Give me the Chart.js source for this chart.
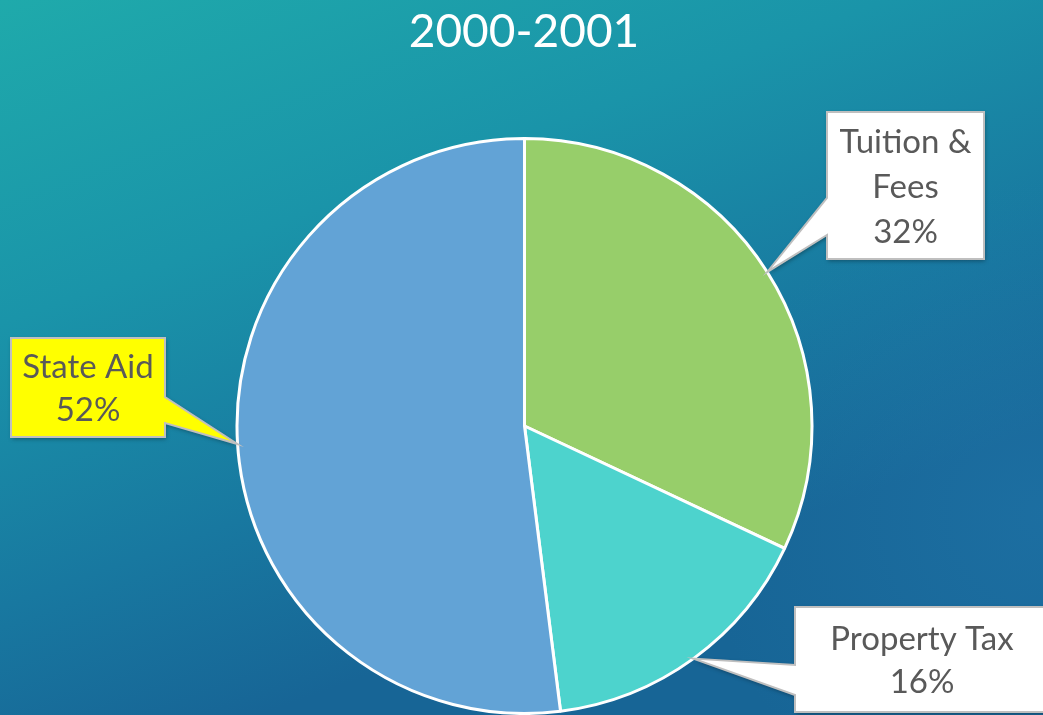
<!DOCTYPE html>
<html lang="en">
<head>
    <meta charset="UTF-8">
    <title>2000-2001 Revenue</title>
    <script src="https://cdn.jsdelivr.net/npm/chart.js"></script>
    <style>
        body {
            margin: 0;
            background: #1a8ea8;
            overflow: hidden;
        }
        canvas {
            display: block;
        }
    </style>
</head>
<body>
    <canvas id="pieChart" width="1043" height="715"></canvas>

    <script>
        const chartTitle = '2000-2001';
        const categories = ['Tuition & Fees', 'Property Tax', 'State Aid'];
        const shares = [32, 16, 52];
        const sliceColors = ['#97ce6a', '#4dd3cd', '#62a3d6'];

        // callout boxes: lines of text, box rect, which side the pointer leaves from
        const callouts = [
            { lines: ['Tuition &', 'Fees', '32%'], box: [827, 112, 157, 147], side: 'left', base: [198, 235], fill: '#ffffff' },
            { lines: ['Property Tax', '16%'], box: [795, 607, 260, 105], side: 'left', base: [665, 695], fill: '#ffffff' },
            { lines: ['State Aid', '52%'], box: [11, 338, 154, 99], side: 'right', base: [397, 423], fill: '#ffff00' }
        ];

        const backdrop = {
            id: 'backdrop',
            beforeDraw(chart) {
                const c = chart.ctx;
                const w = chart.width, h = chart.height;
                c.save();
                const g = c.createLinearGradient(0, 0, w * 0.25, h);
                g.addColorStop(0, '#1faaab');
                g.addColorStop(0.4, '#1a94a9');
                g.addColorStop(0.75, '#1878a0');
                g.addColorStop(1, '#176596');
                c.fillStyle = g;
                c.fillRect(0, 0, w, h);
                // slightly lighter blue on the right side
                const r = c.createRadialGradient(w, h * 0.72, 0, w, h * 0.72, 340);
                r.addColorStop(0, 'rgba(38,128,182,0.35)');
                r.addColorStop(1, 'rgba(38,128,182,0)');
                c.fillStyle = r;
                c.fillRect(0, 0, w, h);

                c.fillStyle = '#ffffff';
                c.font = '46px Lato, "Open Sans", sans-serif';
                c.textAlign = 'center';
                c.textBaseline = 'alphabetic';
                c.fillText(chartTitle, 524, 47);
                c.restore();
            }
        };

        const calloutPlugin = {
            id: 'callouts',
            afterDatasetsDraw(chart) {
                const c = chart.ctx;
                const arcs = chart.getDatasetMeta(0).data;
                c.save();
                callouts.forEach((co, i) => {
                    const a = arcs[i];
                    const mid = (a.startAngle + a.endAngle) / 2;
                    const tipX = a.x + Math.cos(mid) * a.outerRadius;
                    const tipY = a.y + Math.sin(mid) * a.outerRadius;
                    const [bx, by, bw, bh] = co.box;
                    c.beginPath();
                    if (co.side === 'left') {
                        c.moveTo(bx, by);
                        c.lineTo(bx + bw, by);
                        c.lineTo(bx + bw, by + bh);
                        c.lineTo(bx, by + bh);
                        c.lineTo(bx, co.base[1]);
                        c.lineTo(tipX, tipY);
                        c.lineTo(bx, co.base[0]);
                    } else {
                        c.moveTo(bx, by);
                        c.lineTo(bx + bw, by);
                        c.lineTo(bx + bw, co.base[0]);
                        c.lineTo(tipX, tipY);
                        c.lineTo(bx + bw, co.base[1]);
                        c.lineTo(bx + bw, by + bh);
                        c.lineTo(bx, by + bh);
                    }
                    c.closePath();
                    c.shadowColor = 'rgba(0,0,0,0.35)';
                    c.shadowBlur = 4;
                    c.shadowOffsetX = 1;
                    c.shadowOffsetY = 2;
                    c.fillStyle = co.fill;
                    c.fill();
                    c.shadowColor = 'transparent';
                    c.lineWidth = 2;
                    c.strokeStyle = '#bfbfbf';
                    c.stroke();

                    c.fillStyle = '#595959';
                    c.font = '33px Lato, "Open Sans", sans-serif';
                    c.textAlign = 'center';
                    const cx = bx + bw > chart.width ? bx + 127 : bx + bw / 2;
                    const lineH = co.lines.length === 3 ? 45 : 43;
                    const firstBase = by + (bh - lineH * (co.lines.length - 1)) / 2 + 12;
                    co.lines.forEach((t, k) => c.fillText(t, cx, firstBase + k * lineH));
                });
                c.restore();
            }
        };

        const ctx = document.getElementById('pieChart').getContext('2d');
        const pieChart = new Chart(ctx, {
            type: 'pie',
            data: {
                labels: categories,
                datasets: [{
                    data: shares,
                    backgroundColor: sliceColors,
                    borderColor: '#ffffff',
                    borderWidth: 3
                }]
            },
            options: {
                responsive: false,
                animation: false,
                layout: {
                    padding: { top: 137, bottom: 0, left: 6, right: 0 }
                },
                plugins: {
                    legend: { display: false },
                    tooltip: { enabled: false },
                    title: { display: false }
                }
            },
            plugins: [backdrop, calloutPlugin]
        });
    </script>
</body>
</html>
